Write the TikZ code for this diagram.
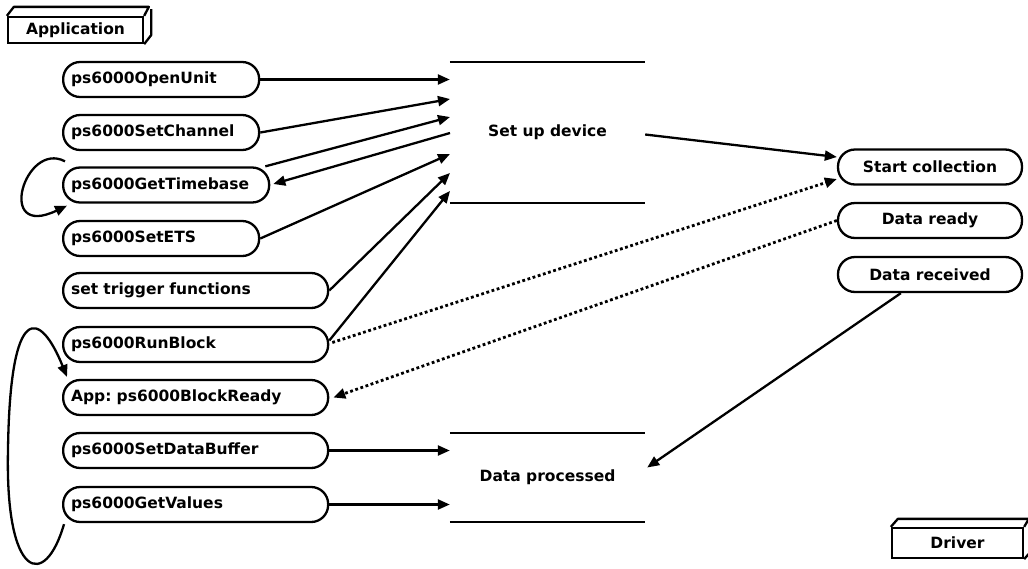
\documentclass[tikz,border=0pt]{standalone}
\usepackage{fontspec}
\setmainfont{DejaVu Sans}
\usetikzlibrary{arrows.meta,calc}
\frenchspacing
\begin{document}
\begin{tikzpicture}[x=1pt,y=-1pt,
  font=\fontsize{15.5}{18}\selectfont\bfseries,
  pill/.style={draw, line width=2.3pt, rounded corners=17pt, minimum height=35pt, inner xsep=8pt, inner ysep=0pt},
  lp/.style={pill, anchor=west, text width=#1, align=left},
  rp/.style={pill, minimum width=184pt, align=center},
  conn/.style={line width=2.3pt, -{Triangle[length=12pt,width=10pt]}},
  dotconn/.style={conn, line width=2.8pt, dash pattern=on 2.8pt off 2.6pt},
  area/.style={minimum width=195pt, inner sep=0pt},
  arealine/.style={line width=2.3pt},
  box3d/.style={draw, line width=2.3pt, inner sep=0pt}]
\useasboundingbox (0,0) rectangle (1028,568);

% 3D labels
\node[box3d, minimum width=135pt, minimum height=26pt] (app) at (75.5,30) {Application};
\draw[line width=2.3pt, line join=round] (app.north west) -- ++(7,-9) -- ++(135,0) -- (app.north east)
  (app.south east) -- ++(7,-9) -- ++(0,-26);
\node[box3d, minimum width=131pt, minimum height=30pt] (drv) at (957.5,543) {Driver};
\draw[line width=2.3pt, line join=round] (drv.north west) -- ++(7,-8) -- ++(131,0) -- (drv.north east)
  (drv.south east) -- ++(7,-8) -- ++(0,-30);

% left pills
\node[lp=180pt] (op) at (62,79.5) {ps6000OpenUnit};
\node[lp=180pt] (sc) at (62,132.5) {ps6000SetChannel};
\node[lp=190pt] (gt) at (62,185) {ps6000GetTimebase};
\node[lp=180pt] (ets) at (62,238.5) {ps6000SetETS};
\node[lp=249pt] (trg) at (62,290.5) {set trigger functions};
\node[lp=249pt] (rb) at (62,344.5) {ps6000RunBlock};
\node[lp=249pt] (br) at (62,397.5) {App: ps6000BlockReady};
\node[lp=249pt] (sdb) at (62,450.5) {ps6000SetDataBuffer};
\node[lp=249pt] (gv) at (62,504.5) {ps6000GetValues};

% right pills
\node[rp] (stc) at (930,167) {Start collection};
\node[rp] (dr) at (930,220.5) {Data ready};
\node[rp] (drc) at (930,274.5) {Data received};

% areas
\node[area, minimum height=141pt] (sud) at (547.5,132.5) {Set up device};
\draw[arealine] (sud.north west) -- (sud.north east);
\draw[arealine] (sud.south west) -- (sud.south east);
\node[area, minimum height=89pt] (dp) at (547.5,477.5) {Data processed};
\draw[arealine] (dp.north west) -- (dp.north east);
\draw[arealine] (dp.south west) -- (dp.south east);

% arrow ends on the set-up area
\coordinate (s2) at (450,99);
\coordinate (s3) at (450,117);
\coordinate (s4) at (450,133);
\coordinate (s5) at (450,154);
\coordinate (s6) at (450,173);
\coordinate (s7) at (450,191);

\draw[conn] (op.east) -- (op.east -| sud.west);
\draw[conn] (sc.east) -- (s2);
\draw[conn] ($(gt.north east)+(-5,0)$) -- (s3);
\draw[conn] (s4) -- ($(gt.east)+(3,-1)$);
\draw[conn] (ets.east) -- (s5);
\draw[conn] (trg.east) -- (s6);
\draw[conn] ($(rb.east)+(0,-4)$) -- (s7);

\draw[conn] ($(sud.east)+(0,2)$) -- ($(stc.west)+(0,-10)$);
\draw[dotconn] ($(rb.east)+(3,-2)$) -- ($(stc.west)+(0,12)$);
\draw[dotconn] (dr.west) -- ($(br.east)+(4,0)$);
\draw[conn] ($(drc.south west)+(64,0)$) -- ($(dp.east)+(2,-10)$);

\draw[conn] (sdb.east) -- (sdb.east -| dp.west);
\draw[conn] (gv.east) -- (gv.east -| dp.west);

% loops
\draw[conn] ($(gt.north west)+(3,-5)$) .. controls (25,140) and (-5,240) .. ($(gt.south west)+(5,2)$);
\draw[conn] ($(gv.south west)+(2,1)$) .. controls (45,590) and (5,580) .. (8,450)
  .. controls (10,300) and (40,310) .. ($(br.north west)+(5,-2)$);
\end{tikzpicture}
\end{document}
